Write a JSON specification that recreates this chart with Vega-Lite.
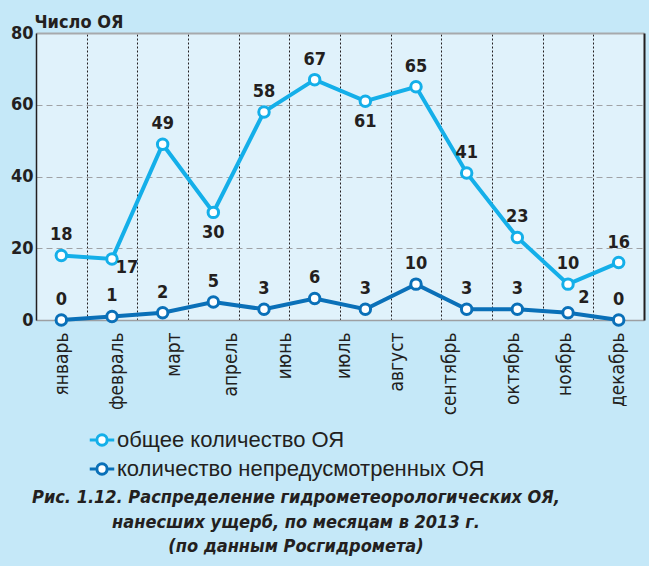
{
  "$schema": "https://vega.github.io/schema/vega-lite/v6.json",
  "width": 608,
  "height": 287,
  "autosize": {"type": "none"},
  "padding": {"left": 36, "top": 33, "right": 5, "bottom": 246},
  "background": "#c5e8f8",
  "config": {
    "view": {"fill": "#e0f2fb", "stroke": null},
    "font": "Liberation Sans Narrow, DejaVu Sans Condensed, sans-serif"
  },
  "title": {
    "text": ["Рис. 1.12. Распределение гидрометеорологических ОЯ,", "нанесших ущерб, по месяцам в 2013 г.", "(по данным Росгидромета)"],
    "orient": "bottom",
    "anchor": "middle",
    "dx": -44,
    "offset": 8,
    "font": "Liberation Sans Narrow, DejaVu Sans Condensed, sans-serif",
    "fontStyle": "italic",
    "fontWeight": "bold",
    "fontSize": 18,
    "lineHeight": 24.5,
    "color": "#231f20"
  },
  "data": {
    "values": [
      {"m": 1, "month": "январь", "series": "общее количество ОЯ", "value": 18},
      {"m": 2, "month": "февраль", "series": "общее количество ОЯ", "value": 17},
      {"m": 3, "month": "март", "series": "общее количество ОЯ", "value": 49},
      {"m": 4, "month": "апрель", "series": "общее количество ОЯ", "value": 30},
      {"m": 5, "month": "май", "series": "общее количество ОЯ", "value": 58},
      {"m": 6, "month": "июнь", "series": "общее количество ОЯ", "value": 67},
      {"m": 7, "month": "июль", "series": "общее количество ОЯ", "value": 61},
      {"m": 8, "month": "август", "series": "общее количество ОЯ", "value": 65},
      {"m": 9, "month": "сентябрь", "series": "общее количество ОЯ", "value": 41},
      {"m": 10, "month": "октябрь", "series": "общее количество ОЯ", "value": 23},
      {"m": 11, "month": "ноябрь", "series": "общее количество ОЯ", "value": 10},
      {"m": 12, "month": "декабрь", "series": "общее количество ОЯ", "value": 16},
      {"m": 1, "month": "январь", "series": "количество непредусмотренных ОЯ", "value": 0},
      {"m": 2, "month": "февраль", "series": "количество непредусмотренных ОЯ", "value": 1},
      {"m": 3, "month": "март", "series": "количество непредусмотренных ОЯ", "value": 2},
      {"m": 4, "month": "апрель", "series": "количество непредусмотренных ОЯ", "value": 5},
      {"m": 5, "month": "май", "series": "количество непредусмотренных ОЯ", "value": 3},
      {"m": 6, "month": "июнь", "series": "количество непредусмотренных ОЯ", "value": 6},
      {"m": 7, "month": "июль", "series": "количество непредусмотренных ОЯ", "value": 3},
      {"m": 8, "month": "август", "series": "количество непредусмотренных ОЯ", "value": 10},
      {"m": 9, "month": "сентябрь", "series": "количество непредусмотренных ОЯ", "value": 3},
      {"m": 10, "month": "октябрь", "series": "количество непредусмотренных ОЯ", "value": 3},
      {"m": 11, "month": "ноябрь", "series": "количество непредусмотренных ОЯ", "value": 2},
      {"m": 12, "month": "декабрь", "series": "количество непредусмотренных ОЯ", "value": 0}
    ]
  },
  "layer": [
    {
      "mark": {"type": "line", "strokeWidth": 4},
      "encoding": {
        "x": {
          "field": "m", "type": "quantitative",
          "scale": {"domain": [0.5, 12.5], "nice": false, "zero": false},
          "axis": {
            "orient": "bottom",
            "title": null,
            "values": [1, 2.08, 3.22, 4.33, 5.41, 6.56, 7.62, 8.67, 9.9, 10.94, 11.98],
            "labelExpr": "['январь','февраль','март','апрель','июнь','июль','август','сентябрь','октябрь','ноябрь','декабрь'][indexof([100,208,322,433,541,656,762,867,990,1094,1198], round(datum.value*100))]",
            "labelAngle": 270,
            "labelAlign": "right",
            "labelBaseline": "middle",
            "labelPadding": 12,
            "labelFontSize": 19,
            "labelColor": "#231f20",
            "labelFlush": false,
            "labelOverlap": false,
            "labelBound": false,
            "ticks": false,
            "grid": false,
            "domain": true,
            "domainColor": "#9d9fa2",
            "domainWidth": 1.5
          }
        },
        "y": {
          "field": "value", "type": "quantitative",
          "scale": {"domain": [0, 80], "nice": false},
          "axis": {
            "orient": "left",
            "values": [0, 20, 40, 60, 80],
            "title": "Число ОЯ",
            "titleAngle": 0,
            "titleX": -2,
            "titleY": -6,
            "titleAlign": "left",
            "titleBaseline": "alphabetic",
            "titleFontSize": 18,
            "titleFontWeight": "bold",
            "titleColor": "#231f20",
            "labelFontSize": 18,
            "labelFontWeight": "bold",
            "labelColor": "#231f20",
            "labelPadding": 3,
            "labelFlush": false,
            "ticks": false,
            "domainColor": "#231f20",
            "domainWidth": 1.5,
            "grid": true,
            "gridColor": "#a0a2a5",
            "gridDash": [6, 4],
            "gridWidth": 1.2
          }
        },
        "color": {
          "field": "series", "type": "nominal",
          "scale": {"domain": ["общее количество ОЯ", "количество непредусмотренных ОЯ"], "range": ["#14afe9", "#0a70b8"]},
          "legend": {
            "title": null,
            "orient": "none",
            "legendX": 52,
            "legendY": 393,
            "direction": "vertical",
            "symbolType": "M-1,0L-0.42,0M0.42,0L1,0M0.42,0A0.42,0.42,0,1,1,-0.42,0A0.42,0.42,0,1,1,0.42,0Z",
            "symbolSize": 600,
            "symbolStrokeWidth": 3,
            "labelFont": "Liberation Sans, Arial, sans-serif",
            "labelFontSize": 22,
            "labelColor": "#231f20",
            "labelOffset": 1,
            "labelLimit": 600,
            "rowPadding": 3,
            "encode": {"symbols": {"update": {"fill": {"value": "white"}, "strokeWidth": {"value": 3}, "opacity": {"value": 1}}}}
          }
        }
      }
    },
    {
      "mark": {"type": "point", "filled": true, "fill": "white", "size": 110, "strokeWidth": 3, "opacity": 1},
      "encoding": {
        "x": {
          "field": "m", "type": "quantitative",
          "axis": {
            "orient": "top",
            "title": null,
            "values": [1.5, 2.5, 3.5, 4.5, 5.5, 6.5, 7.5, 8.5, 9.5, 10.5, 11.5],
            "labels": false,
            "ticks": false,
            "domain": true,
            "domainColor": "#a7a9ac",
            "domainWidth": 2,
            "grid": true,
            "gridColor": "#231f20",
            "gridDash": [2, 2],
            "gridWidth": 1
          }
        },
        "y": {
          "field": "value", "type": "quantitative",
          "axis": {
            "orient": "right",
            "title": null,
            "labels": false,
            "ticks": false,
            "grid": false,
            "domain": true,
            "domainColor": "#231f20",
            "domainWidth": 2
          }
        },
        "stroke": {
          "field": "series", "type": "nominal",
          "scale": {"domain": ["общее количество ОЯ", "количество непредусмотренных ОЯ"], "range": ["#14afe9", "#0a70b8"]},
          "legend": null
        }
      }
    },
    {
      "transform": [{"filter": "!((datum.series == 'общее количество ОЯ' && (datum.m == 2 || datum.m == 4 || datum.m == 7)) || (datum.series == 'количество непредусмотренных ОЯ' && datum.m == 11))"}],
      "mark": {"type": "text", "dy": -20, "fontSize": 18, "fontWeight": "bold", "color": "#231f20", "baseline": "middle"},
      "encoding": {
        "x": {"field": "m", "type": "quantitative", "axis": null},
        "y": {"field": "value", "type": "quantitative", "axis": null},
        "text": {"field": "value", "type": "quantitative"}
      }
    },
    {
      "transform": [{"filter": "datum.series == 'общее количество ОЯ' && (datum.m == 4 || datum.m == 7)"}],
      "mark": {"type": "text", "dy": 21, "fontSize": 18, "fontWeight": "bold", "color": "#231f20", "baseline": "middle"},
      "encoding": {
        "x": {"field": "m", "type": "quantitative", "axis": null},
        "y": {"field": "value", "type": "quantitative", "axis": null},
        "text": {"field": "value", "type": "quantitative"}
      }
    },
    {
      "transform": [{"filter": "datum.series == 'общее количество ОЯ' && datum.m == 2"}],
      "mark": {"type": "text", "dx": 15, "dy": 9, "fontSize": 18, "fontWeight": "bold", "color": "#231f20", "baseline": "middle"},
      "encoding": {
        "x": {"field": "m", "type": "quantitative", "axis": null},
        "y": {"field": "value", "type": "quantitative", "axis": null},
        "text": {"field": "value", "type": "quantitative"}
      }
    },
    {
      "transform": [{"filter": "datum.series == 'количество непредусмотренных ОЯ' && datum.m == 11"}],
      "mark": {"type": "text", "dx": 16, "dy": -15, "fontSize": 18, "fontWeight": "bold", "color": "#231f20", "baseline": "middle"},
      "encoding": {
        "x": {"field": "m", "type": "quantitative", "axis": null},
        "y": {"field": "value", "type": "quantitative", "axis": null},
        "text": {"field": "value", "type": "quantitative"}
      }
    }
  ],
  "resolve": {"axis": {"x": "independent", "y": "independent"}}
}
